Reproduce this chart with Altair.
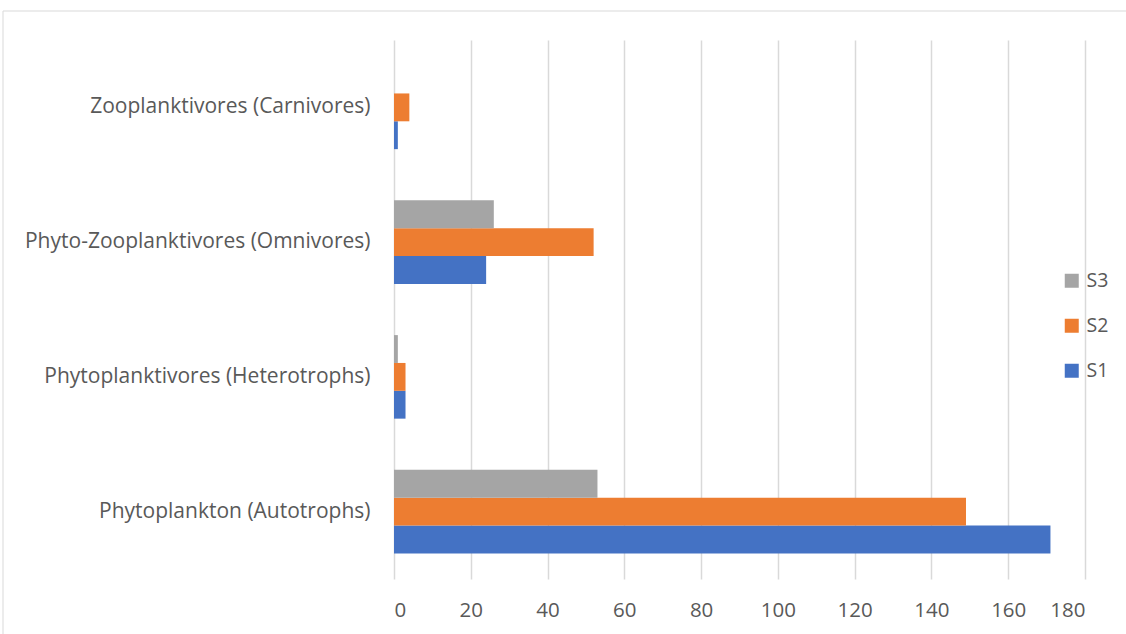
import altair as alt
import pandas as pd

categories = [
    "Zooplanktivores (Carnivores)",
    "Phyto-Zooplanktivores (Omnivores)",
    "Phytoplanktivores (Heterotrophs)",
    "Phytoplankton (Autotrophs)",
]
series = ["S3", "S2", "S1"]
s1 = [1, 24, 3, 171]
s2 = [4, 52, 3, 149]
s3 = [0, 26, 1, 53]
colors = ["#a5a5a5", "#ed7d31", "#4472c4"]
x_ticks = [0, 20, 40, 60, 80, 100, 120, 140, 160, 180]

rows = []
for name, vals in (("S1", s1), ("S2", s2), ("S3", s3)):
    for c, v in zip(categories, vals):
        rows.append({"category": c, "series": name, "value": v})
df = pd.DataFrame(rows)

W, H = 691, 539
LEFT, TOP = 394, 40
FONT = "Open Sans"
GREY = "#595959"

bars = alt.Chart(df).mark_bar().encode(
    x=alt.X(
        "value:Q",
        scale=alt.Scale(domain=[0, 180], nice=False),
        axis=alt.Axis(
            values=x_ticks,
            title=None,
            domain=False,
            ticks=False,
            grid=True,
            gridColor="#d9d9d9",
            gridWidth=1.5,
            labelFont=FONT,
            labelFontSize=20.5,
            labelColor=GREY,
            labelPadding=21,
        ),
    ),
    y=alt.Y(
        "category:N",
        sort=categories,
        scale=alt.Scale(paddingInner=0.38, paddingOuter=0.19),
        axis=alt.Axis(
            title=None,
            domain=False,
            ticks=False,
            grid=False,
            labelFont=FONT,
            labelFontSize=21,
            labelColor=GREY,
            labelPadding=24,
            labelLimit=400,
        ),
    ),
    yOffset=alt.YOffset("series:N", sort=series),
    color=alt.Color(
        "series:N",
        scale=alt.Scale(domain=series, range=colors),
        legend=alt.Legend(
            title=None,
            orient="none",
            legendX=668,
            legendY=231,
            symbolType="square",
            symbolSize=196,
            symbolStrokeWidth=0,
            labelFont=FONT,
            labelFontSize=19.5,
            labelColor=GREY,
            labelOffset=5,
            rowPadding=24,
        ),
    ),
)

frame = alt.Chart(pd.DataFrame({"a": [0]})).mark_rect(
    filled=False, stroke="#d9d9d9", strokeWidth=1
).encode(
    x=alt.value(3 - LEFT),
    x2=alt.value(1126 - LEFT + 20),
    y=alt.value(11 - TOP),
    y2=alt.value(634 - TOP + 20),
)

chart = alt.layer(frame, bars).properties(
    width=W,
    height=H,
    background="white",
    autosize=alt.AutoSizeParams(type="none"),
    padding={"left": LEFT, "top": TOP, "right": 1126 - LEFT - W, "bottom": 634 - TOP - H},
).configure_view(strokeWidth=0, stroke="transparent")

chart.save("out.html", embed_options={"renderer": "svg", "actions": False})
